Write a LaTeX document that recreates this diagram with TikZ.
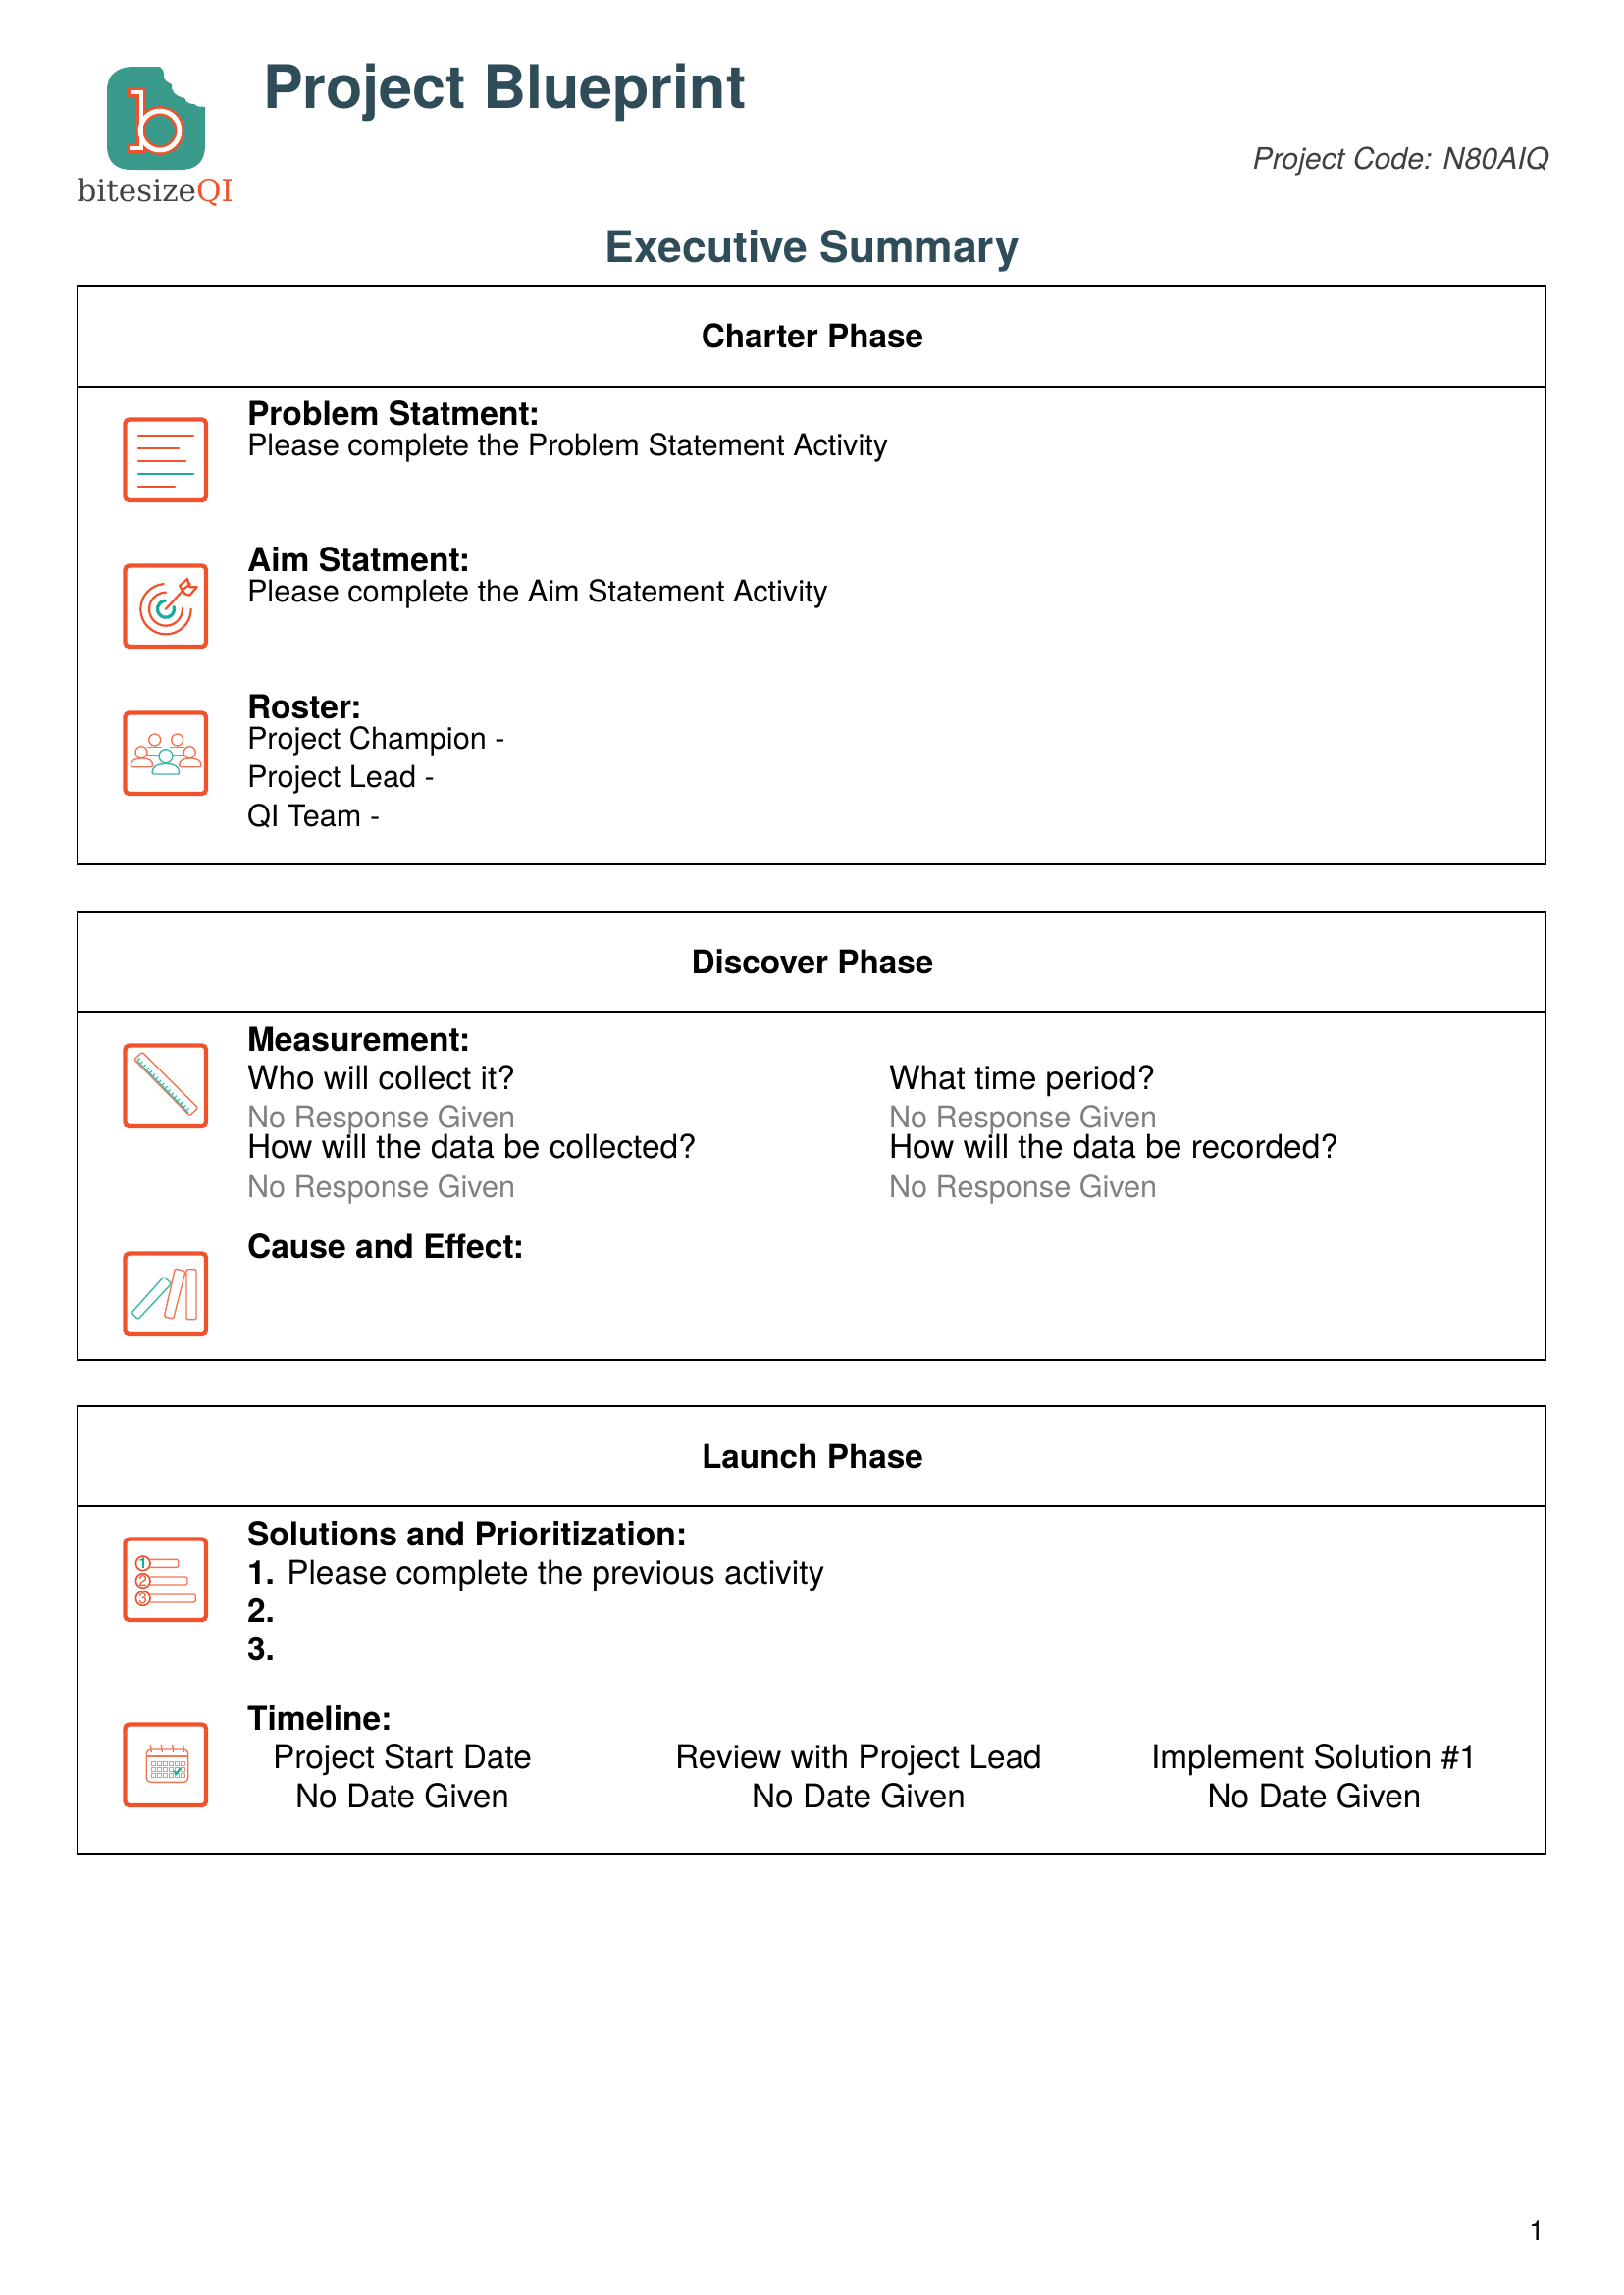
\documentclass[tikz,border=0pt]{standalone}
\usepackage{fontspec}
\setmainfont{TeX Gyre Heros}
\newfontfamily\logofont{DejaVu Serif}
\definecolor{ttl}{HTML}{2F4C59}
\definecolor{org}{HTML}{F0532B}
\definecolor{tea}{HTML}{17AD9A}
\definecolor{lgt}{HTML}{3A9A8C}
\definecolor{gry}{HTML}{808080}
\definecolor{lgd}{HTML}{444444}
\tikzset{
 x=0.36pt,y=-0.36pt,
 txt/.style={anchor=base west,inner sep=0pt,outer sep=0pt,font=\fontsize{#1}{#1}\selectfont},
 txt/.default=11,
 lab/.style={txt=12,font=\fontsize{12.1}{12}\selectfont\bfseries},
 bod/.style={txt=11.05},
 big/.style={txt=12.03},
 nog/.style={txt=11.03,text=gry},
 hdr/.style={anchor=base,inner sep=0pt,font=\fontsize{12}{12}\selectfont\bfseries},
 col/.style={anchor=base,inner sep=0pt,font=\fontsize{12.03}{12}\selectfont},
 phasebox/.style={draw=black,line width=0.5pt},
 iconframe/.style={draw=org,line width=1.55pt,rounded corners=1.5pt},
 ol/.style={draw=org,line width=.8pt,line cap=round,line join=round},
 tl/.style={draw=tea,line width=.9pt,line cap=round},
 olt/.style={draw=org!80,line width=.5pt,rounded corners=.5pt},
 tlt/.style={draw=tea!85,line width=.5pt,rounded corners=.5pt},
}
\begin{document}
\begin{tikzpicture}
\useasboundingbox (0,0) rectangle (1654,2339);
% logo
\fill[lgt] (109,92) .. controls (109,76) and (120,68) .. (136,68) -- (163,68)
 .. controls (165,71) and (168,72) .. (167,75) .. controls (165,80) and (170,84) .. (175,86)
 .. controls (174,92) and (178,98) .. (188,100) .. controls (190,106) and (196,106) .. (198,106)
 .. controls (201,110) and (206,108) .. (209,109) -- (209,148)
 .. controls (209,165) and (200,173) .. (184,173) -- (134,173)
 .. controls (118,173) and (109,165) .. (109,148) -- cycle;
\draw[org,line width=3.5pt,line join=miter] (130,94) -- (144,94) -- (144,151) -- (129,151);
\draw[org,line width=3.5pt] (163,133) circle[radius=20];
\draw[white,line width=1.7pt] (133,94) -- (144,94) -- (144,151) -- (132,151);
\draw[white,line width=1.7pt] (163,133) circle[radius=20];
\node[anchor=base west,inner sep=0pt,font=\logofont\fontsize{11.2}{12}\selectfont,text=lgd] (logotext) at (78,205) {bitesize\textcolor{org}{QI}};
% titles
\node[txt=22,font=\fontsize{22}{22}\selectfont\bfseries,text=ttl] (title) at (268,110.5) {Project Blueprint};
\node[anchor=base east,inner sep=0pt,font=\fontsize{10.9}{11}\selectfont\itshape,text=black!75] (code) at (1579,172.5) {Project Code: N80AIQ};
\node[anchor=base,inner sep=0pt,font=\fontsize{16}{16}\selectfont\bfseries,text=ttl] (exec) at (828,267.5) {Executive Summary};
% boxes
\draw[phasebox] (78.5,291) rectangle (1575.5,881); \draw[phasebox] (78.5,394) -- (1575.5,394);
\draw[phasebox] (78.5,929) rectangle (1575.5,1386); \draw[phasebox] (78.5,1031) -- (1575.5,1031);
\draw[phasebox] (78.5,1433) rectangle (1575.5,1890); \draw[phasebox] (78.5,1535) -- (1575.5,1535);
\node[hdr] (h1) at (828,354.5) {Charter Phase};
\node[hdr] (h2) at (828,992) {Discover Phase};
\node[hdr] (h3) at (828,1496) {Launch Phase};
% charter
\node[lab] (a1) at (252,433.5) {Problem Statment:};
\node[bod] (a2) at (252,464) {Please complete the Problem Statement Activity};
\node[lab] (a3) at (252,582.5) {Aim Statment:};
\node[bod] (a4) at (252,613.5) {Please complete the Aim Statement Activity};
\node[lab] (a5) at (252,732.5) {Roster:};
\node[bod] (a6) at (252,763.5) {Project Champion -};
\node[bod] (a7) at (252,802.5) {Project Lead -};
\node[bod] (a8) at (252,842) {QI Team -};
% discover
\node[lab] (b1) at (252,1071) {Measurement:};
\node[big] (b2) at (252,1110) {Who will collect it?};
\node[nog] (b3) at (252,1149) {No Response Given};
\node[big] (b4) at (252,1180) {How will the data be collected?};
\node[nog] (b5) at (252,1220) {No Response Given};
\node[big] (b6) at (906,1110) {What time period?};
\node[nog] (b7) at (906,1149) {No Response Given};
\node[big] (b8) at (906,1180) {How will the data be recorded?};
\node[nog] (b9) at (906,1220) {No Response Given};
\node[lab] (b10) at (252,1282.5) {Cause and Effect:};
% launch
\node[lab] (c1) at (252,1575) {Solutions and Prioritization:};
\node[big] (c2) at (252,1614) {\textbf{1.} Please complete the previous activity};
\node[big] (c3) at (252,1653) {\textbf{2.}};
\node[big] (c4) at (252,1692.5) {\textbf{3.}};
\node[lab] (c5) at (252,1763) {Timeline:};
\node[col] (d1) at (410,1802) {Project Start Date};
\node[col] (d2) at (410,1842) {No Date Given};
\node[col] (d3) at (875,1802) {Review with Project Lead};
\node[col] (d4) at (875,1842) {No Date Given};
\node[col] (d5) at (1339.5,1802) {Implement Solution \#1};
\node[col] (d6) at (1339.5,1842) {No Date Given};
\node[anchor=base,inner sep=0pt,font=\fontsize{10}{10}\selectfont] (pg) at (1566,2283) {1};
% icon 1
\begin{scope}[shift={(125,425)}]
\draw[iconframe] (2.5,2.5) rectangle (85,85);
\draw[ol,line width=1pt] (16,19) -- (72,19); \draw[ol,line width=1pt] (16,32) -- (57,32); \draw[ol,line width=1pt] (16,45) -- (64,45);
\draw[tl,line width=1pt] (16,58) -- (72,58); \draw[ol,line width=1pt] (16,71) -- (53,71);
\end{scope}
% icon 2
\begin{scope}[shift={(125,574)}]
\draw[iconframe] (2.5,2.5) rectangle (85,85);
\draw[ol] (44,46.7) ++(0:25.7) arc[start angle=0,end angle=265,radius=25.7];
\draw[ol] (44,46.7) ++(-3:17) arc[start angle=-3,end angle=270,radius=17];
\draw[tl,line width=1.2pt] (44,46.7) ++(-15:8.5) arc[start angle=-15,end angle=265,radius=8.5];
\draw[ol] (44,46.7) -- (63,26);
\draw[ol,fill=white] (58,23) -- (66,16) -- (68.3,24.3) -- (75.7,24.3) -- (68.3,32.7) -- (63.3,31) -- cycle;
\draw[ol] (60,28) -- (69,21);
\end{scope}
% icon 3
\begin{scope}[shift={(125,724)}]
\draw[iconframe] (2.5,2.5) rectangle (85,85);
\draw[olt] (32.7,30) circle[radius=6]; \draw[olt] (55.7,30) circle[radius=6];
\draw[olt] (19,42.7) circle[radius=6]; \draw[olt] (68.3,42.7) circle[radius=6];
\draw[olt] (25,37.7) -- (40,37.7); \draw[olt] (48,37.7) -- (63,37.7);
\draw[olt] (25,46) -- (37,46); \draw[olt] (51,46) -- (63,46);
\draw[olt] (8.3,57.7) .. controls (8.3,51) and (13,49) .. (19.5,49) .. controls (26,49) and (30.7,51) .. (30.7,57.7) -- cycle;
\draw[olt] (57.7,57.7) .. controls (57.7,51) and (62,49) .. (68.8,49) .. controls (75,49) and (80,51) .. (80,57.7) -- cycle;
\draw[tlt] (44,46.7) circle[radius=7];
\draw[tlt] (30,65) .. controls (30,57) and (36,54.5) .. (44,54.5) .. controls (52,54.5) and (57.7,57) .. (57.7,65) -- cycle;
\end{scope}
% icon 4
\begin{scope}[shift={(125,1063)}]
\draw[iconframe] (2.5,2.5) rectangle (85,85);
\draw[olt] (11.7,16.7) -- (20,9.3) -- (76.7,66) -- (68.3,74) -- cycle;
\foreach \t in {0,.06,...,1.0}{\draw[tea!85,line width=.4pt] ({15+\t*52},{18+\t*53}) -- ({15+\t*52+2.5},{18+\t*53-2.5});}
\draw[tea!85,line width=.4pt] (15,18) -- (67,71);
\end{scope}
% icon 5
\begin{scope}[shift={(125,1275)}]
\draw[iconframe] (2.5,2.5) rectangle (85,85);
\draw[tlt] (9,63) -- (41.7,26.3) -- (50,33) -- (15.7,69.7) -- cycle;
\draw[olt] (53.3,18) -- (64,20.7) -- (51.7,69) -- (42.3,67) -- cycle;
\draw[olt] (65,18.7) -- (75,18.7) -- (75,69.7) -- (65,69.7) -- cycle;
\end{scope}
% icon 6
\begin{scope}[shift={(125,1566)}]
\draw[iconframe] (2.5,2.5) rectangle (85,85);
\draw[olt] (28,23.3) -- (56.7,23.3) -- (56.7,31.3) -- (28,31.3);
\draw[olt] (28,41) -- (66,41) -- (66,49) -- (28,49);
\draw[olt] (28,59) -- (74.3,59) -- (74.3,67) -- (28,67);
\draw[draw=org,line width=.6pt] (20.7,27.3) circle[radius=7.3];
\draw[draw=org,line width=.6pt] (20.7,45) circle[radius=7.3];
\draw[draw=org,line width=.6pt] (20.7,63) circle[radius=7.3];
\node[inner sep=0pt,text=tea,font=\fontsize{5.5}{5.5}\selectfont\bfseries] (n1) at (20.7,27.3) {1};
\node[inner sep=0pt,text=org,font=\fontsize{5.5}{5.5}\selectfont] (n2) at (20.7,45) {2};
\node[inner sep=0pt,text=org,font=\fontsize{5.5}{5.5}\selectfont] (n3) at (20.7,63) {3};
\end{scope}
% icon 7
\begin{scope}[shift={(125,1755)}]
\draw[iconframe] (2.5,2.5) rectangle (85,85);
\draw[olt,rounded corners=1.5pt] (24.3,28) rectangle (66.7,61.3);
\draw[olt] (24.3,35) -- (66.7,35);
\foreach \x in {28.3,39.3,50.7,61.7}{\draw[olt] (\x,23) -- ({\x+1},31);}
\foreach \y in {40,46,52}{\foreach \x in {29,35,41,47,53,59}{\draw[org!65,line width=.3pt] (\x,\y) rectangle ++(4.5,4.5);}}
\draw[tea,line width=.7pt] (52,50) -- (54.5,53) -- (59,47);
\end{scope}
\end{tikzpicture}
\end{document}
